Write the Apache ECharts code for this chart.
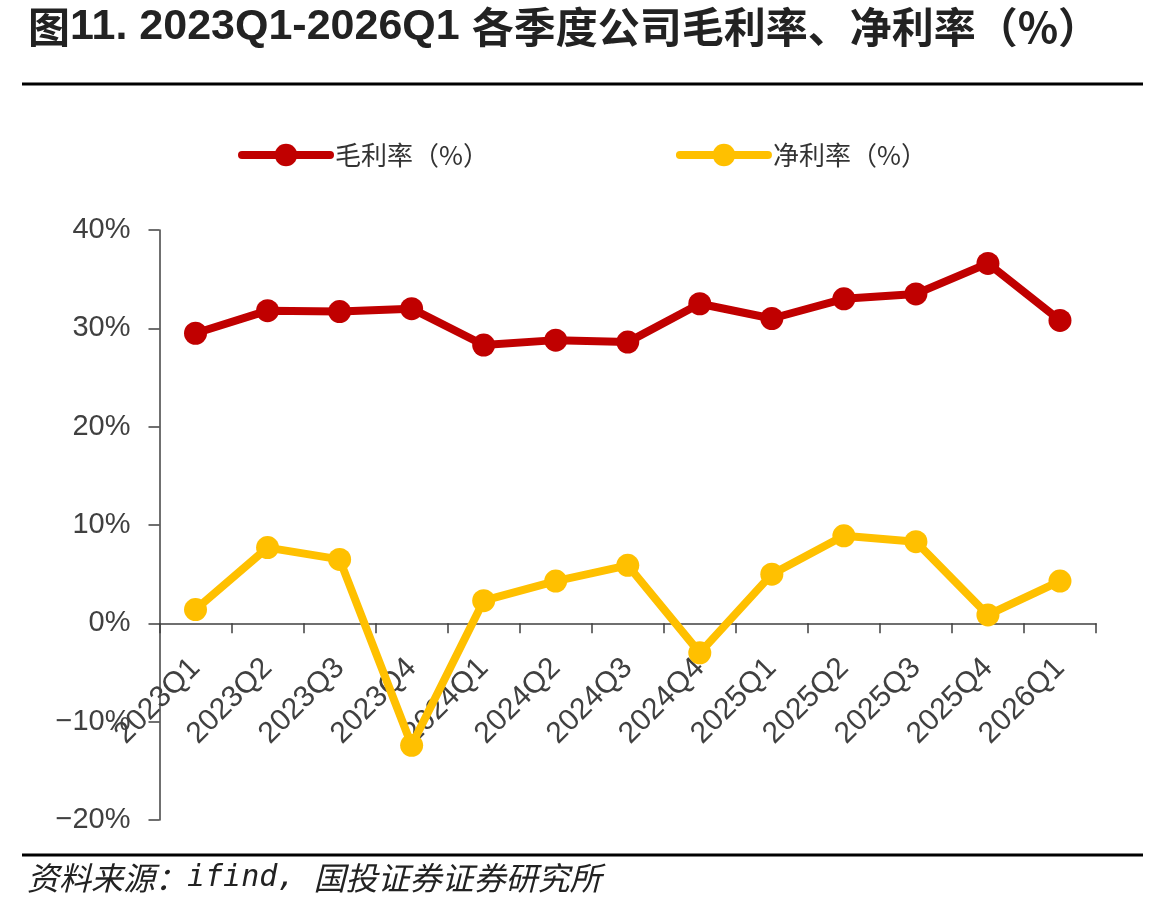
<!DOCTYPE html>
<html>
<head>
<meta charset="utf-8">
<style>
  html, body { margin: 0; padding: 0; background: #fff; }
  #app { width: 1167px; height: 910px; }
</style>
<script src="https://cdn.jsdelivr.net/npm/echarts@6/dist/echarts.min.js"></script>
</head>
<body>
<div id="app"></div>
<script>
// 季度
const quarters = ['2023Q1', '2023Q2', '2023Q3', '2023Q4', '2024Q1', '2024Q2', '2024Q3',
    '2024Q4', '2025Q1', '2025Q2', '2025Q3', '2025Q4', '2026Q1'];
// 毛利率（%）
const grossMargin = [29.5, 31.8, 31.7, 32.0, 28.3, 28.8, 28.6, 32.5, 31.0, 33.0, 33.5, 36.6, 30.8];
// 净利率（%）
const netMargin = [1.4, 7.7, 6.5, -12.4, 2.3, 4.3, 5.9, -3.0, 5.0, 8.9, 8.3, 0.85, 4.3];
// y 轴刻度
const yTicks = { min: -20, max: 40, interval: 10 };

const myChart = echarts.init(document.getElementById('app'));
const axisColor = '#404040';
const latin = 'Liberation Sans, Arial, sans-serif';
const cjk = '"Noto Sans CJK SC", sans-serif';

const gridTop = 230, gridBottom = 820;
// x 轴放在 0 处：从底部往上挪
const zeroOffset = (gridBottom - gridTop) * (0 - yTicks.min) / (yTicks.max - yTicks.min);

const option = {
    animation: false,
    backgroundColor: '#fff',
    color: ['#C00000', '#FFC000'],
    legend: {
        left: 238,
        top: 142,
        padding: 0,
        itemWidth: 88,
        itemHeight: 28,
        itemGap: 187,
        lineStyle: { width: 8, cap: 'round' },
        textStyle: { fontFamily: cjk, fontSize: 26, color: '#333' },
        data: ['毛利率（%）', '净利率（%）']
    },
    grid: { left: 159.5, right: 71, top: gridTop, bottom: 910 - gridBottom, outerBoundsMode: 'none' },
    xAxis: {
        type: 'category',
        data: quarters,
        boundaryGap: true,
        offset: -zeroOffset,
        axisLine: { onZero: false, lineStyle: { color: axisColor, width: 1.5 } },
        axisTick: { show: true, length: 10, lineStyle: { color: axisColor, width: 1.5 } },
        axisLabel: {
            interval: 0,
            rotate: 45,
            margin: 40,
            hideOverlap: false,
            fontFamily: latin,
            fontSize: 30,
            color: axisColor
        }
    },
    yAxis: {
        type: 'value',
        min: yTicks.min,
        max: yTicks.max,
        interval: yTicks.interval,
        axisLine: { show: true, lineStyle: { color: axisColor, width: 1.5 } },
        axisTick: { show: true, length: 11, lineStyle: { color: axisColor, width: 1.5 } },
        splitLine: { show: false },
        axisLabel: {
            margin: 29,
            fontFamily: latin,
            fontSize: 29,
            color: axisColor,
            formatter: v => (v < 0 ? '\u2212' + Math.abs(v) : v) + '%'
        }
    },
    series: [
        {
            name: '毛利率（%）',
            type: 'line',
            data: grossMargin,
            symbol: 'circle',
            symbolSize: 23,
            lineStyle: { width: 8 }
        },
        {
            name: '净利率（%）',
            type: 'line',
            data: netMargin,
            symbol: 'circle',
            symbolSize: 23,
            lineStyle: { width: 8 }
        }
    ],
    graphic: [
        {
            type: 'text',
            left: 28,
            top: 6,
            style: {
                text: '{a|图}{b|11. 2023Q1-2026Q1 }{a|各季度公司毛利率、净利率（%）}',
                fill: '#222',
                rich: {
                    a: { fontFamily: cjk, fontWeight: 'bold', fontSize: 42, fill: '#222' },
                    b: { fontFamily: latin, fontWeight: 'bold', fontSize: 43, fill: '#222' }
                }
            }
        },
        {
            type: 'line',
            shape: { x1: 22, y1: 84, x2: 1143, y2: 84 },
            style: { stroke: '#000', lineWidth: 3 }
        },
        {
            type: 'line',
            shape: { x1: 22, y1: 855, x2: 1143, y2: 855 },
            style: { stroke: '#000', lineWidth: 3 }
        },
        {
            type: 'text',
            left: 27,
            top: 862,
            style: {
                text: '{a|资料来源：}{b|ifind, }{a|国投证券证券研究所}',
                fill: '#222',
                rich: {
                    a: { fontFamily: cjk, fontStyle: 'italic', fontSize: 32, fill: '#222' },
                    b: { fontFamily: 'DejaVu Sans Mono, monospace', fontStyle: 'italic', fontSize: 30, fill: '#222' }
                }
            }
        }
    ]
};

myChart.setOption(option);
</script>
</body>
</html>
